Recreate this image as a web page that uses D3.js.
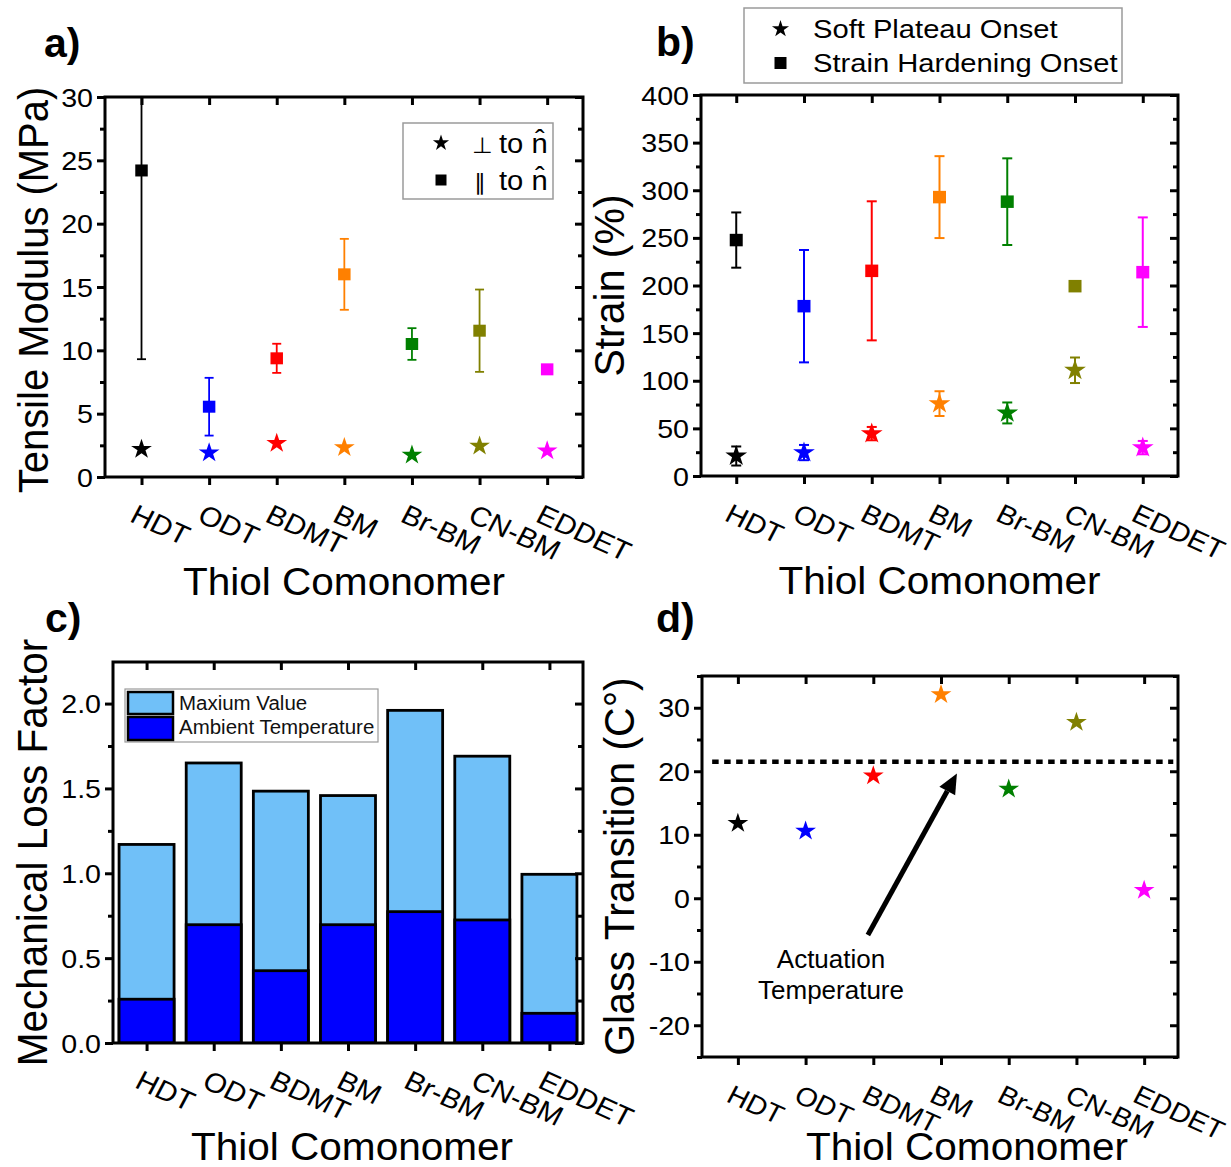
<!DOCTYPE html>
<html>
<head>
<meta charset="utf-8">
<script src="https://cdn.jsdelivr.net/npm/d3@7"></script>
<style>
  html, body { margin: 0; padding: 0; background: #fff; }
  svg { display: block; }
  text { font-family: "Liberation Sans", Arial, "DejaVu Sans", sans-serif; fill: #000; }
</style>
</head>
<body>
<svg id="chart" width="1231" height="1167"></svg>
<script>
// ---------------- DATA ----------------
const categories = ["HDT", "ODT", "BDMT", "BM", "Br-BM", "CN-BM", "EDDET"];
const seriesColors = ["#000000", "#0000FF", "#FF0000", "#FF8000", "#008000", "#808000", "#FF00FF"];

// a) Tensile modulus (MPa)
const modulusParallel    = [24.2, 5.55, 9.37, 16.0, 10.5, 11.55, 8.5];
const modulusParallelErr = [14.9, 2.28, 1.15, 2.8, 1.25, 3.25, 0];
const modulusPerp        = [2.2, 1.92, 2.66, 2.32, 1.74, 2.45, 2.08];

// b) Strain (%)
const strainHardening    = [247.7, 178.3, 215.4, 292.8, 288, 199.3, 214];
const strainHardeningErr = [29, 59, 73, 43, 45.5, 0, 57.5];
const softPlateau        = [21, 24.6, 44.5, 76, 66.2, 111, 29.8];
const softPlateauErr     = [10, 8, 7, 13, 11, 13.4, 7];

// c) Mechanical loss factor
const lossMax     = [1.17, 1.65, 1.484, 1.458, 1.96, 1.69, 0.994];
const lossAmbient = [0.258, 0.697, 0.426, 0.697, 0.774, 0.725, 0.175];

// d) Glass transition (C°)
const glassTransition = [11.8, 10.6, 19.3, 32.1, 17.2, 27.7, 1.25];
const actuationTemp = 21.5;

// tick values / labels
const ticksA = [0, 5, 10, 15, 20, 25, 30];
const minorA = [2.5, 7.5, 12.5, 17.5, 22.5, 27.5];
const ticksB = [0, 50, 100, 150, 200, 250, 300, 350, 400];
const minorB = [25, 75, 125, 175, 225, 275, 325, 375];
const ticksC = [0, 0.5, 1.0, 1.5, 2.0];
const minorC = [0.25, 0.75, 1.25, 1.75];
const ticksD = [-20, -10, 0, 10, 20, 30];
const minorD = [-25, -15, -5, 5, 15, 25, 35];
const labelsC = ["0.0", "0.5", "1.0", "1.5", "2.0"];

// ---------------- DRAWING ----------------
const svg = d3.select("#chart");
const SX = 1.08; // horizontal stretch of text in the reference

function txt(g, x, y, str, o = {}) {
  const t = g.append("text")
    .attr("transform", `translate(${x},${y}) scale(${o.sx || SX},1) rotate(${o.rot || 0})`)
    .attr("font-size", o.size || 26)
    .attr("text-anchor", o.anchor || "start")
    .text(str);
  if (o.weight) t.attr("font-weight", o.weight);
  if (o.dy) t.attr("dy", o.dy);
  if (o.fill) t.style("fill", o.fill);
  return t;
}

const starSym = r => d3.symbol(d3.symbolStar, r * r / 0.8908130915292852)();
const squareSym = s => d3.symbol(d3.symbolSquare, s * s)();

function panel(cfg) {
  const g = svg.append("g");
  const x = d3.scaleLinear().domain(cfg.xDomain).range([cfg.left, cfg.right]);
  const y = d3.scaleLinear().domain(cfg.yDomain).range([cfg.bottom, cfg.top]);
  const idx = categories.map((_, i) => i);

  const id = "clip" + cfg.name;
  svg.append("clipPath").attr("id", id).append("rect")
    .attr("x", cfg.left).attr("y", cfg.top)
    .attr("width", cfg.right - cfg.left).attr("height", cfg.bottom - cfg.top);
  const plot = g.append("g").attr("clip-path", `url(#${id})`);

  const axStyle = sel => {
    sel.select(".domain").remove();
    sel.selectAll("line").attr("stroke", "#000").attr("stroke-width", 3);
    sel.selectAll("text").remove();
  };
  const minorIn = cfg.minor.filter(v => v >= cfg.yDomain[0] && v <= cfg.yDomain[1]);
  // left (outward)
  g.append("g").attr("transform", `translate(${cfg.left},0)`)
    .call(d3.axisLeft(y).tickValues(cfg.ticks).tickSize(8)).call(axStyle);
  g.append("g").attr("transform", `translate(${cfg.left},0)`)
    .call(d3.axisLeft(y).tickValues(minorIn).tickSize(5)).call(axStyle);
  // right (inward)
  g.append("g").attr("transform", `translate(${cfg.right},0)`)
    .call(d3.axisLeft(y).tickValues(cfg.ticks).tickSize(8)).call(axStyle);
  g.append("g").attr("transform", `translate(${cfg.right},0)`)
    .call(d3.axisLeft(y).tickValues(minorIn).tickSize(5)).call(axStyle);
  // bottom (outward) and top (inward)
  g.append("g").attr("transform", `translate(0,${cfg.bottom})`)
    .call(d3.axisBottom(x).tickValues(idx).tickSize(8)).call(axStyle);
  g.append("g").attr("transform", `translate(0,${cfg.top})`)
    .call(d3.axisBottom(x).tickValues(idx).tickSize(8)).call(axStyle);

  // y tick labels
  cfg.ticks.forEach((v, i) => {
    txt(g, cfg.left - 12, y(v), cfg.tickLabels ? cfg.tickLabels[i] : String(v),
        { size: 26.5, anchor: "end", dy: "0.36em" });
  });
  // x tick labels (rotated)
  categories.forEach((c, i) => {
    txt(g, x(i) - 13, cfg.bottom + 44, c, { size: cfg.xLabelSize || 27.5, rot: 26 });
  });
  // axis titles
  txt(g, (cfg.left + cfg.right) / 2 + (cfg.xTitleShift || 0), cfg.xTitleY, "Thiol Comonomer",
      { size: 39, anchor: "middle", sx: 1.04 });
  txt(g, cfg.yTitleX, (cfg.top + cfg.bottom) / 2 + (cfg.yTitleShift || 0), cfg.yTitle,
      { size: cfg.yTitleSize || 39.5, anchor: "middle", rot: -90, sx: 1.06 });
  // panel letter
  txt(g, cfg.letterX, cfg.letterY, cfg.letter, { size: 41, weight: "bold", sx: 1.0 });

  return { g, plot, x, y, frame: () =>
    g.append("rect").attr("x", cfg.left).attr("y", cfg.top)
      .attr("width", cfg.right - cfg.left).attr("height", cfg.bottom - cfg.top)
      .attr("fill", "none").attr("stroke", "#000").attr("stroke-width", 3) };
}

function errorBars(plot, x, y, vals, errs, width, capW) {
  vals.forEach((v, i) => {
    if (!errs[i]) return;
    const c = seriesColors[i];
    const gx = x(i);
    plot.append("line").attr("x1", gx).attr("x2", gx)
      .attr("y1", y(v - errs[i])).attr("y2", y(v + errs[i]))
      .attr("stroke", c).attr("stroke-width", width);
    [v - errs[i], v + errs[i]].forEach(e => {
      plot.append("line").attr("x1", gx - capW / 2).attr("x2", gx + capW / 2)
        .attr("y1", y(e)).attr("y2", y(e)).attr("stroke", c).attr("stroke-width", width);
    });
  });
}
function markers(plot, x, y, vals, path) {
  vals.forEach((v, i) => {
    plot.append("path").attr("d", path)
      .attr("transform", `translate(${x(i)},${y(v)}) scale(1.04,1)`)
      .attr("fill", seriesColors[i]);
  });
}

// ---------- Panel a ----------
{
  const P = panel({ name: "a", left: 105, right: 583, top: 97, bottom: 477,
    xDomain: [-0.54, 6.53], yDomain: [0, 30], ticks: ticksA, minor: minorA,
    xTitleY: 595, yTitleX: 48, yTitle: "Tensile Modulus (MPa)", yTitleShift: 3, yTitleSize: 40,
    letter: "a)", letterX: 44, letterY: 57 });
  errorBars(P.plot, P.x, P.y, modulusParallel, modulusParallelErr, 1.8, 9);
  markers(P.plot, P.x, P.y, modulusParallel, squareSym(12));
  markers(P.plot, P.x, P.y, modulusPerp, starSym(10.5));
  P.frame();
  // legend
  const lg = P.g.append("g");
  lg.append("rect").attr("x", 403).attr("y", 123).attr("width", 150).attr("height", 76)
    .attr("fill", "#fff").attr("stroke", "#9a9a9a").attr("stroke-width", 1.5);
  lg.append("path").attr("d", starSym(8.5)).attr("transform", "translate(441,143)").attr("fill", "#000");
  lg.append("path").attr("d", squareSym(11)).attr("transform", "translate(441,180)").attr("fill", "#000");
  txt(lg, 472, 153, "\u22A5", { size: 22 });
  txt(lg, 499, 153, "to n\u0302", { size: 27 });
  txt(lg, 474, 190, "\u2225", { size: 22 });
  txt(lg, 499, 190, "to n\u0302", { size: 27 });
}

// ---------- Panel b ----------
{
  const P = panel({ name: "b", left: 701, right: 1178, top: 95, bottom: 476,
    xDomain: [-0.52, 6.52], yDomain: [0, 400], ticks: ticksB, minor: minorB,
    xTitleY: 594, yTitleX: 624, yTitle: "Strain (%)", yTitleSize: 41, xLabelSize: 27,
    letter: "b)", letterX: 656, letterY: 56 });
  errorBars(P.plot, P.x, P.y, strainHardening, strainHardeningErr, 2, 10);
  errorBars(P.plot, P.x, P.y, softPlateau, softPlateauErr, 2, 10);
  markers(P.plot, P.x, P.y, strainHardening, squareSym(12.5));
  markers(P.plot, P.x, P.y, softPlateau, starSym(11));
  P.frame();
  const lg = P.g.append("g");
  lg.append("rect").attr("x", 744).attr("y", 8).attr("width", 378).attr("height", 75)
    .attr("fill", "#fff").attr("stroke", "#9a9a9a").attr("stroke-width", 1.5);
  lg.append("path").attr("d", starSym(9)).attr("transform", "translate(780.5,29)").attr("fill", "#000");
  lg.append("path").attr("d", squareSym(12)).attr("transform", "translate(780.5,63)").attr("fill", "#000");
  txt(lg, 813, 38, "Soft Plateau Onset", { size: 26.5, sx: 1.1 });
  txt(lg, 813, 72, "Strain Hardening Onset", { size: 26.5, sx: 1.1 });
}

// ---------- Panel c ----------
{
  const P = panel({ name: "c", left: 113, right: 583, top: 662, bottom: 1043,
    xDomain: [-0.5, 6.5], yDomain: [0, 2.245], ticks: ticksC, minor: minorC, tickLabels: labelsC,
    xTitleY: 1160, xTitleShift: 4, yTitleX: 47, yTitle: "Mechanical Loss Factor", yTitleSize: 40.5,
    letter: "c)", letterX: 45, letterY: 632 });
  const bw = 55;
  lossMax.forEach((v, i) => {
    P.plot.append("rect").attr("x", P.x(i) - bw / 2).attr("y", P.y(v))
      .attr("width", bw).attr("height", P.y(0) - P.y(v))
      .attr("fill", "#70C0F8").attr("stroke", "#000").attr("stroke-width", 2.8);
  });
  lossAmbient.forEach((v, i) => {
    P.plot.append("rect").attr("x", P.x(i) - bw / 2).attr("y", P.y(v))
      .attr("width", bw).attr("height", P.y(0) - P.y(v))
      .attr("fill", "#0000FF").attr("stroke", "#000").attr("stroke-width", 2.8);
  });
  P.frame();
  const lg = P.g.append("g");
  lg.append("rect").attr("x", 125).attr("y", 689).attr("width", 253).attr("height", 53)
    .attr("fill", "#fff").attr("stroke", "#9a9a9a").attr("stroke-width", 1.2);
  lg.append("rect").attr("x", 128).attr("y", 692).attr("width", 45).attr("height", 22)
    .attr("fill", "#70C0F8").attr("stroke", "#000").attr("stroke-width", 2.5);
  lg.append("rect").attr("x", 128).attr("y", 717).attr("width", 45).attr("height", 23)
    .attr("fill", "#0000FF").attr("stroke", "#000").attr("stroke-width", 2.5);
  txt(lg, 179, 710, "Maxium Value", { size: 19.5, sx: 1.05, fill: "#111" });
  txt(lg, 179, 734, "Ambient Temperature", { size: 19.5, sx: 1.05, fill: "#111" });
}

// ---------- Panel d ----------
{
  const P = panel({ name: "d", left: 702, right: 1178, top: 676, bottom: 1057,
    xDomain: [-0.53, 6.5], yDomain: [-25, 35], ticks: ticksD, minor: minorD,
    xTitleY: 1160, xTitleShift: 27, yTitleX: 634, yTitle: "Glass Transition (C\u00B0)", yTitleSize: 41,
    xLabelSize: 26.5,
    letter: "d)", letterX: 656, letterY: 632 });
  // actuation temperature line
  P.plot.append("line")
    .attr("x1", P.x(-0.38)).attr("x2", P.x(6.43))
    .attr("y1", P.y(actuationTemp)).attr("y2", P.y(actuationTemp))
    .attr("stroke", "#000").attr("stroke-width", 4.5).attr("stroke-dasharray", "6.5,5.5");
  markers(P.plot, P.x, P.y, glassTransition, starSym(10.5));
  P.frame();
  // arrow annotation
  const tail = [P.x(1.92), P.y(-5.8)];
  const tip = [P.x(3.235), P.y(19.65)];
  const ang = Math.atan2(tip[1] - tail[1], tip[0] - tail[0]);
  const hl = 20, hw = 9;
  const base = [tip[0] - hl * Math.cos(ang), tip[1] - hl * Math.sin(ang)];
  P.g.append("line").attr("x1", tail[0]).attr("y1", tail[1])
    .attr("x2", base[0]).attr("y2", base[1]).attr("stroke", "#000").attr("stroke-width", 5);
  P.g.append("path").attr("d", d3.line()([
    tip,
    [base[0] + hw * Math.sin(ang), base[1] - hw * Math.cos(ang)],
    [base[0] - hw * Math.sin(ang), base[1] + hw * Math.cos(ang)]
  ]) + "Z").attr("fill", "#000");
  txt(P.g, P.x(1.375), P.y(-10.98), "Actuation", { size: 25, anchor: "middle", sx: 1.04 });
  txt(P.g, P.x(1.375), P.y(-15.87), "Temperature", { size: 25, anchor: "middle", sx: 1.04 });
}
</script>
</body>
</html>
